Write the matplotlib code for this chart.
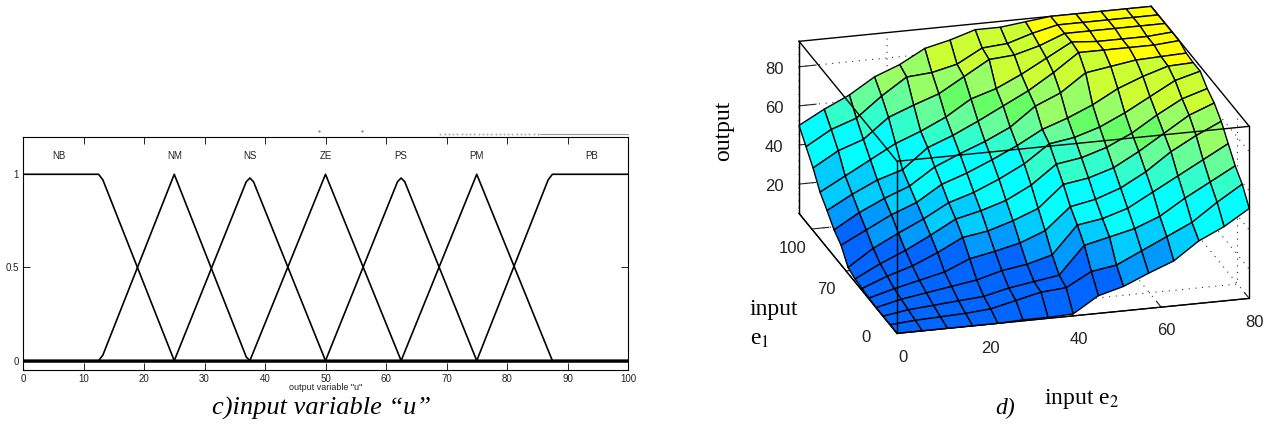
import numpy as np
import matplotlib
matplotlib.use("Agg")
from matplotlib import pyplot as plt
from matplotlib.colors import ListedColormap, BoundaryNorm

plt.rcParams['font.family'] = ['Liberation Sans', 'DejaVu Sans']
plt.rcParams['mathtext.fontset'] = 'stix'

# left panel: membership functions
mf_names = ["NB", "NM", "NS", "ZE", "PS", "PM", "PB"]
mf_label_x = [6, 25, 37.5, 50, 62.5, 75, 94]
mf_x = [
    [0, 12.5, 13.2, 25, 100],
    [0, 12.5, 13.2, 25, 36.9, 37.5, 100],
    [0, 25, 36.9, 37.5, 38.1, 50, 100],
    [0, 37.5, 50, 62.5, 100],
    [0, 50, 61.9, 62.5, 63.1, 75, 100],
    [0, 62.5, 75, 87.5, 100],
    [0, 75, 86.8, 87.5, 100],
]
mf_y = [
    [1, 1, 0.97, 0, 0],
    [0, 0, 0.03, 1, 0.02, 0, 0],
    [0, 0, 0.96, 0.98, 0.96, 0, 0],
    [0, 0, 1, 0, 0],
    [0, 0, 0.96, 0.98, 0.96, 0, 0],
    [0, 0, 1, 0, 0],
    [0, 0, 0.97, 1, 1],
]
mf_xticks = list(range(0, 101, 10))
mf_yticks = [0, 0.5, 1]
mf_yticklabels = ["0", "0.5", "1"]

# right panel: surface heights, rows are e1 = 0..100, columns e2 = 0..80
e1 = np.linspace(0, 100, 15)
e2 = np.linspace(0, 80, 15)
output = np.array([
    [5, 5, 5, 5, 5, 5.5, 5.5, 6, 14, 17.5, 23, 28, 37, 43, 51],
    [5, 6, 6.5, 7, 8, 11, 14, 15, 22, 24, 30, 36, 42, 51, 59],
    [5, 7, 8, 9, 10, 13, 15, 17, 31, 34, 37, 42, 50, 57, 64],
    [5, 8, 10, 12, 14, 17.5, 19.5, 23, 37, 39, 43, 50, 57, 64, 71],
    [5.5, 9, 12, 15, 20.5, 23, 26, 31, 42, 44.5, 49, 56, 65, 72, 78],
    [6, 11, 15, 20.5, 27, 29, 33, 38, 49, 51, 55, 62, 70, 78, 83],
    [6.5, 13, 18.5, 25, 32, 35, 39, 45.5, 55, 57, 61, 67, 75, 82, 86],
    [8, 16.5, 23, 29, 36, 40, 45.5, 52, 61, 63, 67, 73, 80, 87, 90.5],
    [15, 21.5, 28, 33, 41, 45.5, 51, 57, 64, 68.5, 74, 81, 86, 90, 90.5],
    [18.5, 26, 32, 37, 45.5, 51, 56, 62, 71.5, 77, 86, 88, 90, 90.5, 91],
    [24, 31, 37, 41, 51, 56, 62, 68.5, 75, 83, 92, 92, 92, 92, 93],
    [29, 36, 43, 50, 55, 61, 69, 73, 79, 86, 93, 92, 92, 92, 93],
    [37, 44.5, 49, 59, 64, 68.5, 76, 83.5, 84.5, 88, 93, 93, 93, 93, 93],
    [43.5, 51, 55.5, 65.5, 74, 75, 78, 85, 86, 90, 93, 93, 93, 93, 93],
    [50, 57, 63, 71, 76, 83, 86, 90, 90, 91.5, 93, 93, 93, 93, 93],
])
band_edges = [0, 22, 30, 38, 52, 60, 66, 70, 78, 90.5, 100]
band_colors = ["#0066ff", "#0099ff", "#00ccff", "#00ffff", "#33ffcc",
               "#66ff99", "#66ff66", "#99ff66", "#ccff33", "#ffff00"]
e2_lim = (0, 80)
e1_lim = (0, 100)
z_lim = (5, 93)
e2_ticks = [0, 20, 40, 60, 80]
e1_ticks = [12, 52, 87]
e1_ticklabels = ["0", "70", "100"]
z_ticks = [20, 40, 60, 80]

fig = plt.figure(figsize=(12.8, 4.3), dpi=100)

ax = fig.add_axes([23 / 1280, 60 / 430, 605 / 1280, 233 / 430])
for xs, ys in zip(mf_x, mf_y):
    ax.plot(xs, ys, color="k", lw=1.2)
ax.plot([0, 100], [0, 0], color="k", lw=1.8)
for name, xp in zip(mf_names, mf_label_x):
    ax.text(xp, 1.1, name, fontsize=7, ha="center", va="center", color="#222222")
ax.plot(np.arange(69, 85.5, 0.7), np.full(24, 1.215), ls="none", marker=".", ms=0.8,
        color="#999999", clip_on=False)
ax.plot([85.5, 100], [1.215, 1.215], color="#999999", lw=0.8, clip_on=False)
ax.plot([49, 56], [1.23, 1.23], ls="none", marker=".", ms=1, color="#666666", clip_on=False)
ax.set_xlim(0, 100)
ax.set_ylim(-0.05, 1.2)
ax.set_xticks(mf_xticks)
ax.set_yticks(mf_yticks)
ax.set_yticklabels(mf_yticklabels)
ax.tick_params(direction="in", top=True, right=True, labelsize=7, length=5, width=0.7, pad=3,
               colors="#222222")
for s in ax.spines.values():
    s.set_linewidth(0.8)
ax.set_xlabel('output variable "u"', fontsize=6.5, labelpad=-1, color="#222222")
fig.text(321 / 1280, 1 - 408 / 430, "c)input variable “u”", family="Liberation Serif",
         style="italic", fontsize=19, ha="center", va="center")

side = 528
ax3 = fig.add_axes([(1017 - side / 2) / 1280, (253 - side / 2) / 430, side / 1280, side / 430],
                   projection="3d", computed_zorder=False)
ax3.patch.set_alpha(0)
ax3.set_proj_type("ortho")
ax3.view_init(elev=20.4, azim=-105.9)
ax3.set_box_aspect((367, 358.6, 184))
X, Y = np.meshgrid(e2, e1)
cmap = ListedColormap(band_colors)
norm = BoundaryNorm(band_edges, cmap.N)
ax3.plot_surface(X, Y, output, rcount=15, ccount=15, cmap=cmap, norm=norm, shade=False,
                 edgecolor="k", linewidth=1.0, antialiased=True, zorder=2)

x0, x1 = e2_lim
y0, y1 = e1_lim
z0, z1 = z_lim
# box edges that show through the surface
for xs, ys, zs in [([x0, x0], [y0, y0], [z0, z1]),
                   ([x0, x0], [y0, y1], [z1, z1]),
                   ([x0, x1], [y0, y0], [z1, z1]),
                   ([x1, x1], [y0, y1], [z1, z1]),
                   ([x1, x1], [y0, y0], [z0, z1]),
                   ([x0, x0], [y1, y1], [z0, z1]),
                   ([x0, x1], [y0, y0], [z0, z0]),
                   ([x0, x0], [y0, y1], [z0, z0])]:
    ax3.plot(xs, ys, zs, color="k", lw=1.0, zorder=3)
ax3.plot([x0, x1], [y1, y1], [z1, z1], color="k", lw=1.0, zorder=1)

ax3.set_xlim(*e2_lim, view_margin=0)
ax3.set_ylim(*e1_lim, view_margin=0)
ax3.set_zlim(*z_lim, view_margin=0)
ax3.set_xticks(e2_ticks)
ax3.set_yticks(e1_ticks)
ax3.set_yticklabels(e1_ticklabels)
ax3.set_zticks(z_ticks)
ax3.tick_params(labelsize=12, colors="#222222", pad=3)
for a in (ax3.xaxis, ax3.yaxis, ax3.zaxis):
    a.set_pane_color((1, 1, 1, 0))
    a.pane.set_edgecolor((1, 1, 1, 0))
    a._axinfo["grid"].update(color="#333333", linestyle=(0, (1, 5)), linewidth=0.8)
    a._axinfo["tick"].update(inward_factor=0, outward_factor=0.6)
    a.line.set_color("k")

fig.text(724 / 1280, 1 - 131 / 430, "output", family="Liberation Serif", fontsize=17,
         rotation=90, ha="center", va="center")
fig.text(750 / 1280, 1 - 309 / 430, "input", family="Liberation Serif", fontsize=17,
         ha="left", va="center")
fig.text(750 / 1280, 1 - 339 / 430, "e$_1$", family="Liberation Serif", fontsize=17,
         ha="left", va="center")
fig.text(1044 / 1280, 1 - 399 / 430, "input e$_2$", family="Liberation Serif", fontsize=17,
         ha="left", va="center")
fig.text(1005 / 1280, 1 - 408 / 430, "d)", family="Liberation Serif", style="italic", fontsize=17,
         ha="center", va="center")

fig.savefig("out.png", dpi=100)
